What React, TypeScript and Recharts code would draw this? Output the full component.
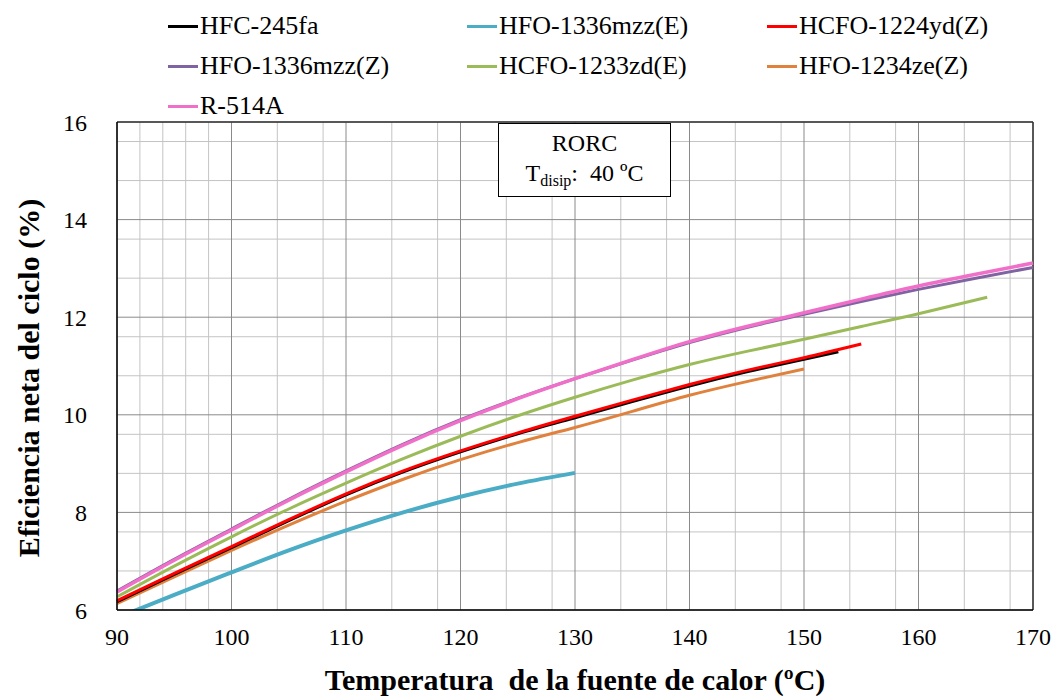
import React from 'react';
import {
  LineChart,
  Line,
  XAxis,
  YAxis,
  CartesianGrid,
  Legend,
  ReferenceLine,
} from 'recharts';

// temperaturas de la fuente de calor (ºC) y eficiencias (%)
const temps245fa = [90, 95, 100, 105, 110, 115, 120, 125, 130, 135, 140, 145, 150, 153];
const eff245fa = [6.17, 6.73, 7.28, 7.83, 8.36, 8.83, 9.24, 9.61, 9.94, 10.27, 10.59, 10.88, 11.14, 11.29];

const temps1336E = [90, 95, 100, 105, 110, 115, 120, 125, 130];
const eff1336E = [5.84, 6.31, 6.77, 7.22, 7.63, 8.0, 8.32, 8.59, 8.81];

const temps1224yd = [90, 95, 100, 105, 110, 115, 120, 125, 130, 135, 140, 145, 150, 155];
const eff1224yd = [6.19, 6.75, 7.3, 7.85, 8.38, 8.85, 9.26, 9.63, 9.97, 10.3, 10.62, 10.91, 11.17, 11.45];

const temps1336Z = [90, 95, 100, 105, 110, 115, 120, 125, 130, 135, 140, 145, 150, 155, 160, 165, 170];
const eff1336Z = [6.39, 7.04, 7.66, 8.27, 8.85, 9.4, 9.9, 10.34, 10.74, 11.12, 11.48, 11.79, 12.06, 12.32, 12.57, 12.8, 13.02];

const temps1233zd = [90, 95, 100, 105, 110, 115, 120, 125, 130, 135, 140, 145, 150, 155, 160, 166];
const eff1233zd = [6.27, 6.9, 7.5, 8.07, 8.6, 9.1, 9.56, 9.98, 10.36, 10.71, 11.03, 11.3, 11.55, 11.81, 12.07, 12.41];

const temps1234ze = [90, 95, 100, 105, 110, 115, 120, 125, 130, 135, 140, 145, 150];
const eff1234ze = [6.13, 6.68, 7.22, 7.74, 8.23, 8.68, 9.08, 9.43, 9.74, 10.07, 10.4, 10.68, 10.94];

const tempsR514A = [90, 95, 100, 105, 110, 115, 120, 125, 130, 135, 140, 145, 150, 155, 160, 165, 170];
const effR514A = [6.37, 7.02, 7.64, 8.25, 8.83, 9.38, 9.88, 10.33, 10.74, 11.13, 11.5, 11.81, 12.09, 12.37, 12.64, 12.88, 13.11];

const xTicks = [90, 100, 110, 120, 130, 140, 150, 160, 170];
const yTicks = [6, 8, 10, 12, 14, 16];
const xMinorGrid = [92, 94, 96, 98, 102, 104, 106, 108, 112, 114, 116, 118, 122, 124, 126, 128, 132, 134, 136, 138, 142, 144, 146, 148, 152, 154, 156, 158, 162, 164, 166, 168];
const yMinorGrid = [6.4, 6.8, 7.2, 7.6, 8.4, 8.8, 9.2, 9.6, 10.4, 10.8, 11.2, 11.6, 12.4, 12.8, 13.2, 13.6, 14.4, 14.8, 15.2, 15.6];

const toPoints = (t: number[], e: number[]) => t.map((temp, i) => ({ temp, eff: e[i] }));

// orden de la leyenda
const legendItems = [
  { name: 'HFC-245fa', color: '#000000' },
  { name: 'HFO-1336mzz(E)', color: '#4bacc6' },
  { name: 'HCFO-1224yd(Z)', color: '#ff0000' },
  { name: 'HFO-1336mzz(Z)', color: '#8064a2' },
  { name: 'HCFO-1233zd(E)', color: '#9bbb59' },
  { name: 'HFO-1234ze(Z)', color: '#e0823d' },
  { name: 'R-514A', color: '#f06fc8' },
];

// orden de dibujo (las de encima al final)
const series = [
  { name: 'HFO-1336mzz(Z)', color: '#8064a2', width: 3, data: toPoints(temps1336Z, eff1336Z) },
  { name: 'R-514A', color: '#f06fc8', width: 3.5, data: toPoints(tempsR514A, effR514A) },
  { name: 'HCFO-1233zd(E)', color: '#9bbb59', width: 3, data: toPoints(temps1233zd, eff1233zd) },
  { name: 'HFO-1234ze(Z)', color: '#e0823d', width: 3, data: toPoints(temps1234ze, eff1234ze) },
  { name: 'HFC-245fa', color: '#000000', width: 3, data: toPoints(temps245fa, eff245fa) },
  { name: 'HCFO-1224yd(Z)', color: '#ff0000', width: 3, data: toPoints(temps1224yd, eff1224yd) },
  { name: 'HFO-1336mzz(E)', color: '#4bacc6', width: 4, data: toPoints(temps1336E, eff1336E) },
];

const serif = 'Liberation Serif, Times New Roman, serif';

const LegendBox = () => (
  <div
    style={{
      display: 'grid',
      gridTemplateColumns: '299px 300px 300px',
      gridAutoRows: '40px',
      paddingLeft: 168,
      paddingTop: 6,
      height: 122,
      boxSizing: 'border-box',
      fontFamily: serif,
      fontSize: 26,
      color: '#000',
    }}
  >
    {legendItems.map((item) => (
      <div key={item.name} style={{ display: 'flex', alignItems: 'center', whiteSpace: 'nowrap' }}>
        <span style={{ display: 'inline-block', width: 30, height: 3, background: item.color, marginRight: 2 }} />
        <span>{item.name}</span>
      </div>
    ))}
  </div>
);

const YTitle = (props: any) => {
  const { viewBox } = props;
  const cx = 28;
  const cy = viewBox.y + viewBox.height / 2 + 12;
  return (
    <text
      x={cx}
      y={cy}
      transform={`rotate(-90, ${cx}, ${cy})`}
      textAnchor="middle"
      dominantBaseline="central"
      style={{ fontFamily: serif, fontSize: 30, fontWeight: 'bold', fill: '#000' }}
    >
      Eficiencia neta del ciclo (%)
    </text>
  );
};

const App = () => {
  return (
    <div
      style={{
        position: 'absolute',
        left: 0,
        top: 0,
        width: 1057,
        height: 696,
        background: '#fff',
        fontFamily: serif,
      }}
    >
      <LineChart
        width={1057}
        height={696}
        margin={{ top: 0, right: 24, bottom: 0, left: 0 }}
        style={{ fontFamily: serif }}
      >
        <CartesianGrid
          stroke="#c4c4c4"
          strokeWidth={1}
          horizontalValues={yMinorGrid}
          verticalValues={xMinorGrid}
        />
        <CartesianGrid stroke="#8a8a8a" strokeWidth={1} />
        <XAxis
          type="number"
          dataKey="temp"
          domain={[90, 170]}
          ticks={xTicks}
          allowDuplicatedCategory={false}
          tickLine={false}
          tickMargin={12}
          height={86}
          axisLine={{ stroke: '#000', strokeWidth: 1.5 }}
          tick={{ fontFamily: serif, fontSize: 24, fill: '#000' }}
          label={{
            value: 'Temperatura\u00a0 de la fuente de calor (ºC)',
            position: 'insideBottom',
            offset: 6,
            style: { fontFamily: serif, fontSize: 30, fontWeight: 'bold', fill: '#000' },
          }}
        />
        <YAxis
          type="number"
          domain={[6, 16]}
          ticks={yTicks}
          allowDataOverflow
          tickLine={false}
          tickMargin={24}
          width={117}
          axisLine={{ stroke: '#000', strokeWidth: 1.5 }}
          tick={{ fontFamily: serif, fontSize: 24, fill: '#000' }}
          label={<YTitle />}
        />
        <ReferenceLine y={16} stroke="#333" strokeWidth={1.5} />
        <ReferenceLine x={170} stroke="#333" strokeWidth={1.5} />
        <Legend
          content={<LegendBox />}
          verticalAlign="top"
          height={122}
          wrapperStyle={{ top: 0, left: 0, width: 1057, height: 122 }}
        />
        {series.map((s) => (
          <Line
            key={s.name}
            data={s.data}
            dataKey="eff"
            name={s.name}
            type="natural"
            stroke={s.color}
            strokeWidth={s.width}
            dot={false}
            activeDot={false}
            isAnimationActive={false}
          />
        ))}
      </LineChart>
      <div
        style={{
          position: 'absolute',
          left: 498,
          top: 123,
          width: 171,
          height: 68,
          border: '1.5px solid #000',
          background: '#fff',
          fontFamily: serif,
          fontSize: 24,
          color: '#000',
          textAlign: 'center',
          lineHeight: '30px',
          paddingTop: 4,
          boxSizing: 'content-box',
        }}
      >
        <div>RORC</div>
        <div>
          T<sub style={{ fontSize: 16, verticalAlign: '-5px', lineHeight: 0 }}>disip</sub>:&nbsp; 40 ºC
        </div>
      </div>
    </div>
  );
};

export default App;
